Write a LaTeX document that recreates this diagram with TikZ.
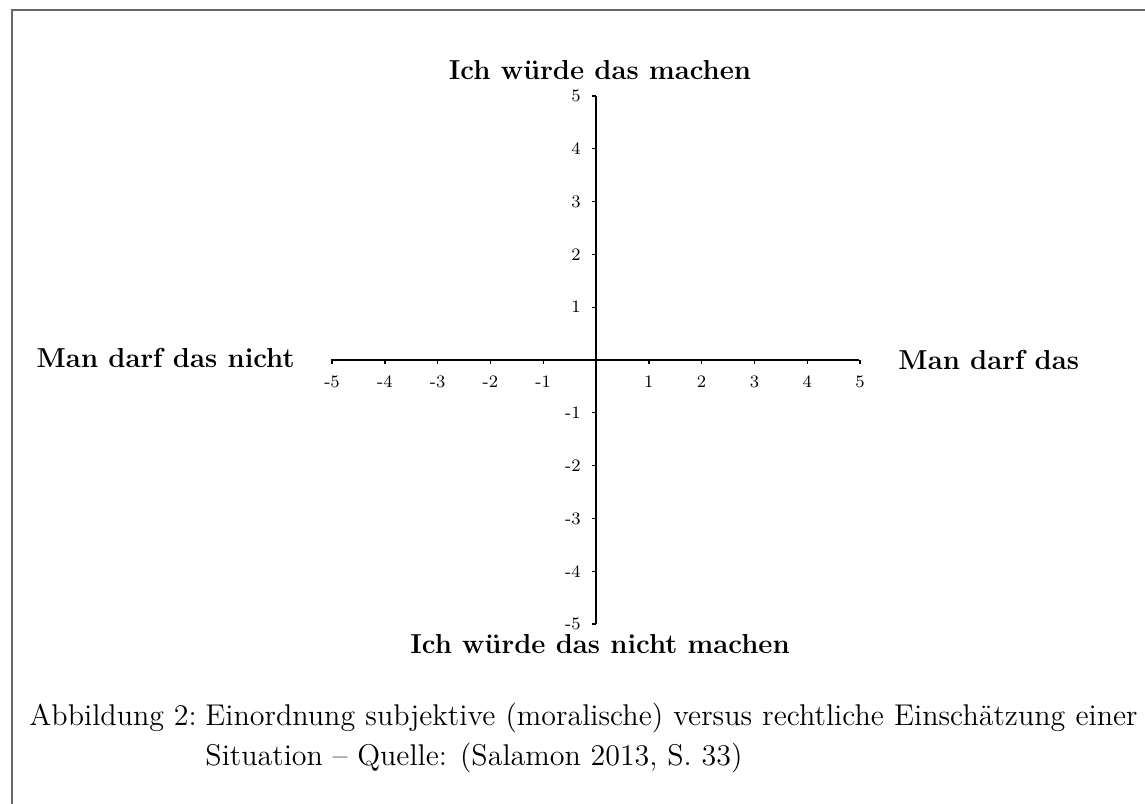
\documentclass[tikz,border=0pt]{standalone}
\usepackage{fontspec}
\begin{document}
\begin{tikzpicture}[x=0.43pt,y=-0.43pt,
  framel/.style={line width=0.85pt, draw=black!60},
  axisline/.style={line width=0.9pt},
  tickline/.style={line width=0.6pt},
  ticklab/.style={font=\fontsize{7.5}{9}\selectfont, inner sep=0pt},
  axlab/.style={font=\fontsize{11.8}{14}\selectfont\bfseries, inner sep=0pt},
  captext/.style={font=\fontsize{12.9}{16}\selectfont, inner sep=0pt, anchor=base west}]
\useasboundingbox (0,0) rectangle (1145,804);
\draw[framel] (12,804) -- (12,10) -- (1145,10);
% axes
\coordinate (O) at (596,360);
\coordinate (xl) at (331,360);
\coordinate (xr) at (859,360);
\coordinate (yt) at (596,96);
\coordinate (yb) at (596,624);
\draw[axisline] (xl) -- (xr);
\draw[axisline] (yb) -- (yt);
% x ticks
\foreach \i in {-5,-4,-3,-2,-1,1,2,3,4,5}{
  \coordinate (xt\i) at ({596+52.8*(\i)},360);
  \draw[tickline] (xt\i) -- ++(0,4);
  \node[ticklab] (xlab\i) at ({596+52.8*(\i)},382) {\i};
}
% y ticks
\foreach \j in {-5,-4,-3,-2,-1,1,2,3,4,5}{
  \coordinate (yt\j) at (596,{360-52.8*(\j)});
  \draw[tickline] (yt\j) -- ++(-4,0);
  \node[ticklab, anchor=east] (ylab\j) at (581,{360-52.8*(\j)}) {\j};
}
% axis labels
\node[axlab, anchor=base] (toplab) at (600,80) {Ich würde das machen};
\node[axlab, anchor=base] (botlab) at (600,653) {Ich würde das nicht machen};
\node[axlab, anchor=base east] (leftlab) at (295,368) {Man darf das nicht};
\node[axlab, anchor=base west] (rightlab) at (898,369) {Man darf das};
% caption
\node[captext] (capnum) at (29,725) {Abbildung 2:};
\node[captext] (cap1) at (205,725) {\makebox[400.8pt][s]{Einordnung subjektive (moralische) versus rechtliche Einschätzung einer}};
\node[captext] (cap2) at (205,765) {Situation – Quelle: (Salamon 2013, S. 33)};
\end{tikzpicture}
\end{document}
